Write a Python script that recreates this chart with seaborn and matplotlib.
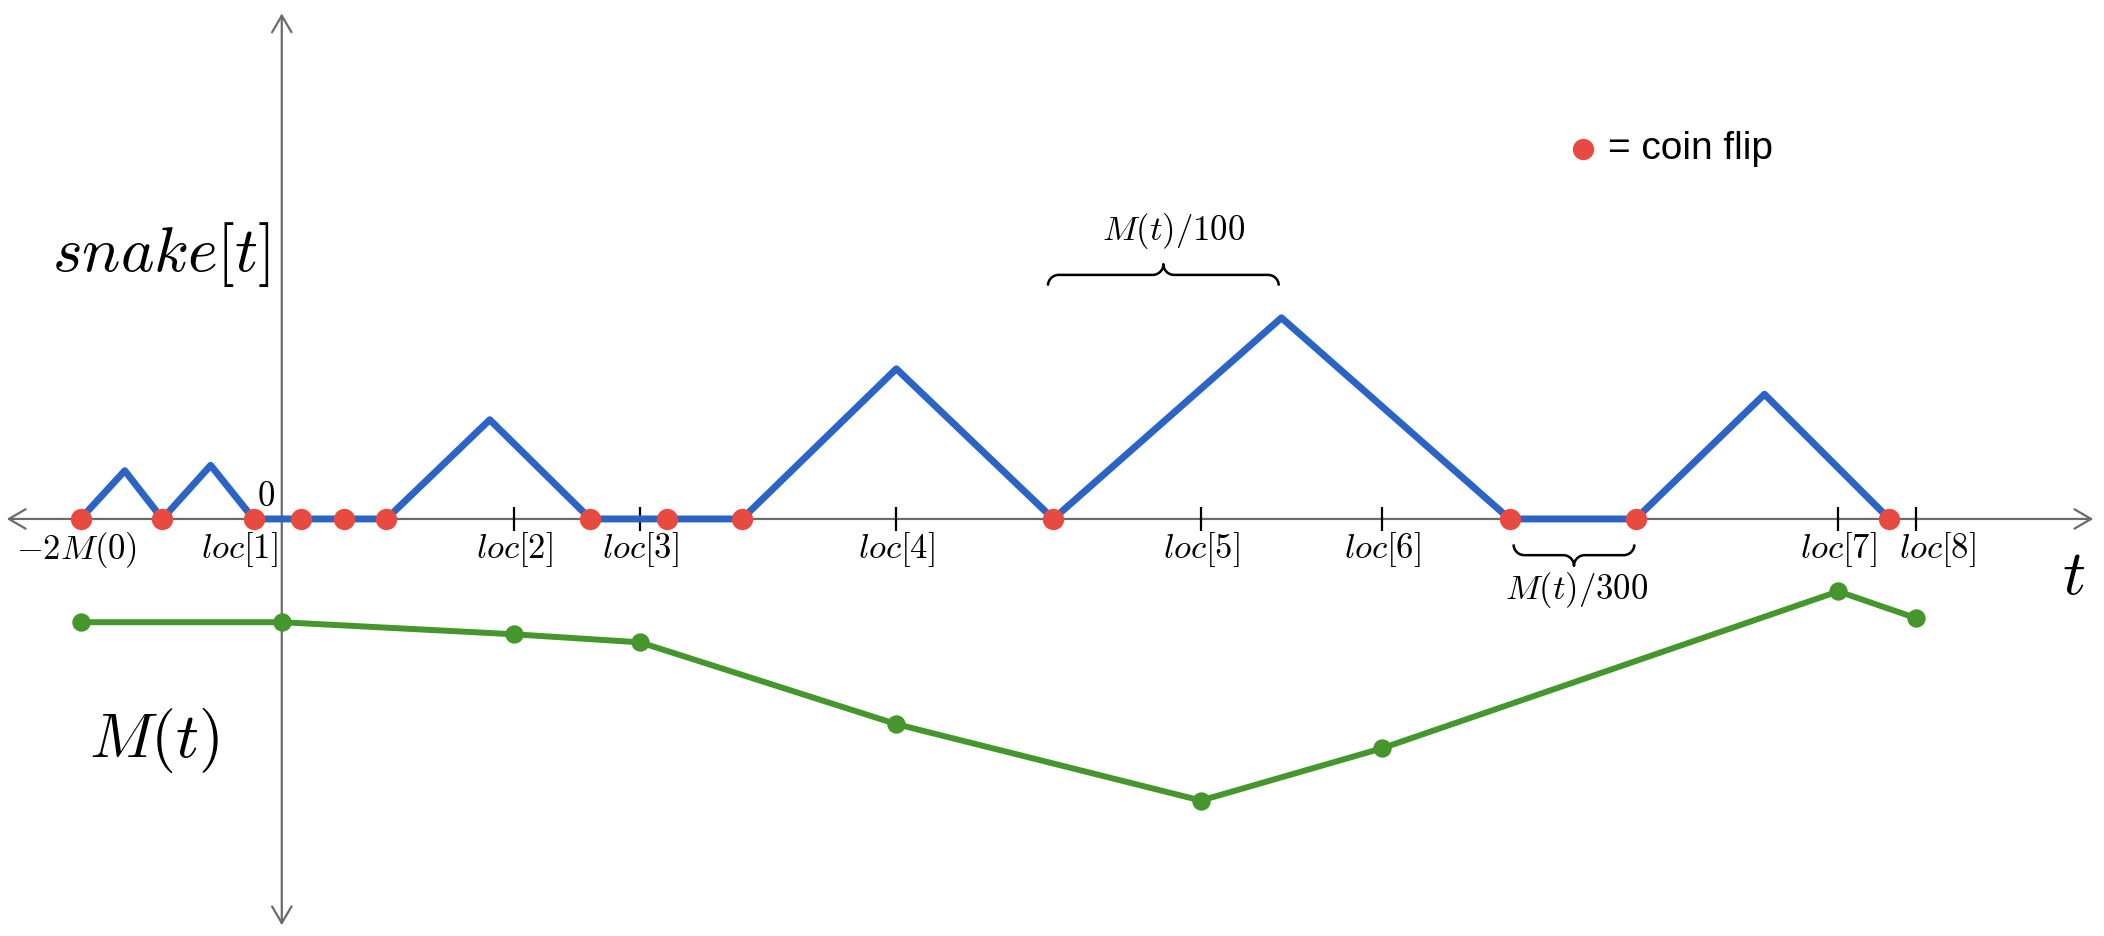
"""
Snake walk sketch: snake[t] with coin flips on the t axis and M(t) below it.
"""

import numpy as np
import pandas as pd
import matplotlib
matplotlib.use("Agg")
import matplotlib.pyplot as plt
from matplotlib.patches import FancyArrowPatch
import seaborn as sns

# Snake path (t, height)
snake_t = [-150, -117, -89, -53, -21, 78, 155, 230, 343, 458, 575, 745, 915, 1009, 1105, 1198]
snake_h = [0, 36, 0, 40, 0, 0, 74, 0, 0, 112, 0, 150, 0, 0, 93, 0]

# Coin flip times (on the axis)
flip_t = [-150, -89, -21, 14, 46, 78, 230, 287, 343, 575, 915, 1009, 1198]

# M(t) curve
m_t = [-150, 0, 173, 267, 458, 685, 820, 1160, 1218]
m_val = [-77, -77, -86, -92, -153, -210, -171, -54, -74]

# Tick marks and labels on the t axis
tick_t = [173, 267, 458, 685, 820, 1160, 1218]
label_t = [-153, -32, 173, 267, 458, 685, 820, 1160, 1234]
label_txt = [r"$-2M(0)$", r"$loc[1]$", r"$loc[2]$", r"$loc[3]$", r"$loc[4]$",
             r"$loc[5]$", r"$loc[6]$", r"$loc[7]$", r"$loc[8]$"]

BLUE = "#2B64C6"
RED = "#E84A40"
GREEN = "#45962D"
GRAY = "#6B6B6B"

sns.set_style("white")
plt.rcParams["mathtext.fontset"] = "cm"
plt.rcParams["text.color"] = "black"
plt.rcParams["font.family"] = ["Liberation Sans", "DejaVu Sans"]

fig = plt.figure(figsize=(21.04, 9.36), dpi=100)
ax = fig.add_axes([0, 0, 1, 1])
ax.set_xlim(-210, 1358)
ax.set_ylim(-311, 387)
ax.axis("off")

# Axes with open arrow heads
for (x0, y0), (x1, y1) in [((-205, 0), (1350, 0)), ((0, -303), (0, 377))]:
    ax.add_patch(FancyArrowPatch((x0, y0), (x1, y1),
                                 arrowstyle="<->,head_length=12,head_width=7",
                                 mutation_scale=1, color=GRAY, lw=1.6,
                                 shrinkA=0, shrinkB=0, zorder=1))

# Tick marks
ax.vlines(tick_t, -9, 9, color="black", lw=1.6, zorder=2)

# Lines
snake = pd.DataFrame({"t": snake_t, "h": snake_h})
mt = pd.DataFrame({"t": m_t, "m": m_val})
sns.lineplot(data=snake, x="t", y="h", color=BLUE, lw=5.0, estimator=None,
             sort=False, ax=ax, zorder=3)
sns.lineplot(data=mt, x="t", y="m", color=GREEN, lw=4.3, estimator=None,
             sort=False, ax=ax, zorder=3)
sns.scatterplot(x=m_t, y=m_val, color=GREEN, s=175, linewidth=0, ax=ax, zorder=4)
sns.scatterplot(x=flip_t, y=[0] * len(flip_t), color=RED, s=235, linewidth=0,
                ax=ax, zorder=5)

# Axis labels
for x, txt in zip(label_t, label_txt):
    ax.text(x, -8, txt, ha="center", va="top", fontsize=25)
ax.text(-12, 17, r"$0$", ha="center", va="center", fontsize=25)
ax.text(-90, 197, r"$snake[t]$", ha="center", va="center", fontsize=46)
ax.text(-95, -165, r"$M(t)$", ha="center", va="center", fontsize=46)
ax.text(1335, -43, r"$t$", ha="center", va="center", fontsize=46)


def brace(x0, x1, y, h, r):
    """Curly brace from x0 to x1; tip points toward sign of h."""
    xm = (x0 + x1) / 2
    s = np.sign(h)
    a = np.linspace(0, np.pi / 2, 20)
    # left end up to the line
    p1x = x0 + r - r * np.cos(a)
    p1y = y - s * r + s * r * np.sin(a)
    # line to the tip
    p2x = xm - r + r * np.sin(a)
    p2y = y + s * r - s * r * np.cos(a)
    xs = np.concatenate([p1x, p2x])
    ys = np.concatenate([p1y, p2y])
    xs = np.concatenate([xs, 2 * xm - xs[::-1]])
    ys = np.concatenate([ys, ys[::-1]])
    ax.plot(xs, ys, color="black", lw=1.8, solid_capstyle="butt")


brace(571, 743, 182, 9, 8)
ax.text(665, 215, r"$M(t)/100$", ha="center", va="center", fontsize=25)
brace(918, 1008, -27, -8, 8)
ax.text(965, -53, r"$M(t)/300$", ha="center", va="center", fontsize=25)

# Legend
ax.scatter([970], [276], color=RED, s=235, linewidth=0)
ax.text(988, 276, "= coin flip", ha="left", va="center", fontsize=28)

fig.savefig("out.png", dpi=100)
plt.close(fig)
